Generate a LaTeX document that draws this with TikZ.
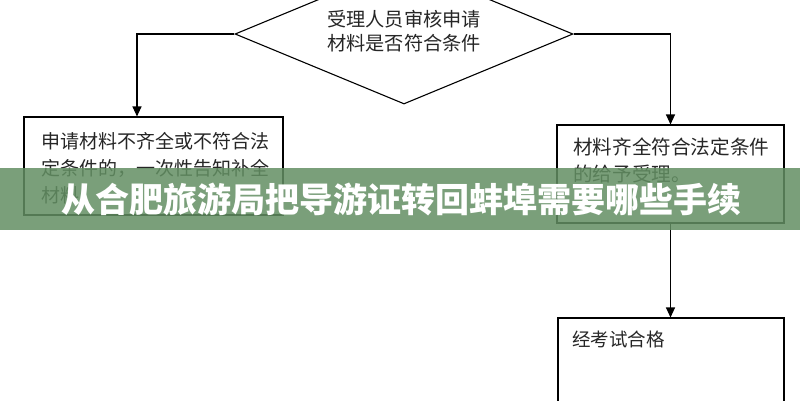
\documentclass[tikz,border=0pt]{standalone}
\usepackage{fontspec}
\newfontfamily\cjk{Noto Sans CJK SC}
\usetikzlibrary{arrows.meta,shapes.geometric}
\definecolor{bannergreen}{RGB}{99,143,99}
\tikzset{
  line/.style={draw=black, line width=1.1pt},
  arr/.style={line, -{Triangle[length=10pt,width=9pt]}},
  box/.style={draw=black, line width=1.1pt, inner sep=0pt, minimum width=#1},
  txt/.style={font=\cjk\fontsize{19}{26.5}\selectfont, text=black!85, align=left, inner sep=0pt, anchor=west},
  bannertxt/.style={font=\cjk\bfseries\fontsize{34}{34}\selectfont, text=white, inner sep=0pt}
}
\begin{document}
\begin{tikzpicture}[x=1pt,y=-1pt]
\useasboundingbox (0,0) rectangle (800,400);
\clip (0,0) rectangle (800,400);
\fill[white] (0,0) rectangle (800,400);
% diamond
\node[diamond, draw=black, line width=1.1pt, minimum width=338pt, minimum height=140pt, inner sep=0pt] (d) at (404,34) {};
\node[txt, font=\cjk\fontsize{19.2}{23.5}\selectfont] (dt) at (327,31) {受理人员审核申请\\材料是否符合条件};
% boxes
\node[box=259pt, minimum height=98pt] (b1) at (153.5,166) {};
\node[txt, font=\cjk\fontsize{19}{27}\selectfont] (b1t) at (41,168) {申请材料不齐全或不符合法\\定条件的，一次性告知补全\\材料};
\node[box=227pt, minimum height=98pt] (b2) at (670.5,174) {};
\node[txt, font=\cjk\fontsize{19.6}{26.5}\selectfont] (b2t) at (573,160.5) {材料齐全符合法定条件\\的给予受理。};
\node[box=226pt, minimum height=110pt] (b3) at (671,373) {};
\node[txt, font=\cjk\fontsize{18.5}{26}\selectfont] (b3t) at (572,339.5) {经考试合格};
% connectors
\draw[arr] (d.west) -| ([xshift=-16.5pt]b1.north);
\draw[arr] (d.east) -| (b2.north);
\draw[arr] (b2.south) -- (b2.south |- b3.north);
% banner
\fill[bannergreen, fill opacity=0.85] (0,168) rectangle (800,230);
\node[bannertxt] (title) at (401,199) {从合肥旅游局把导游证转回蚌埠需要哪些手续};
\end{tikzpicture}
\end{document}
